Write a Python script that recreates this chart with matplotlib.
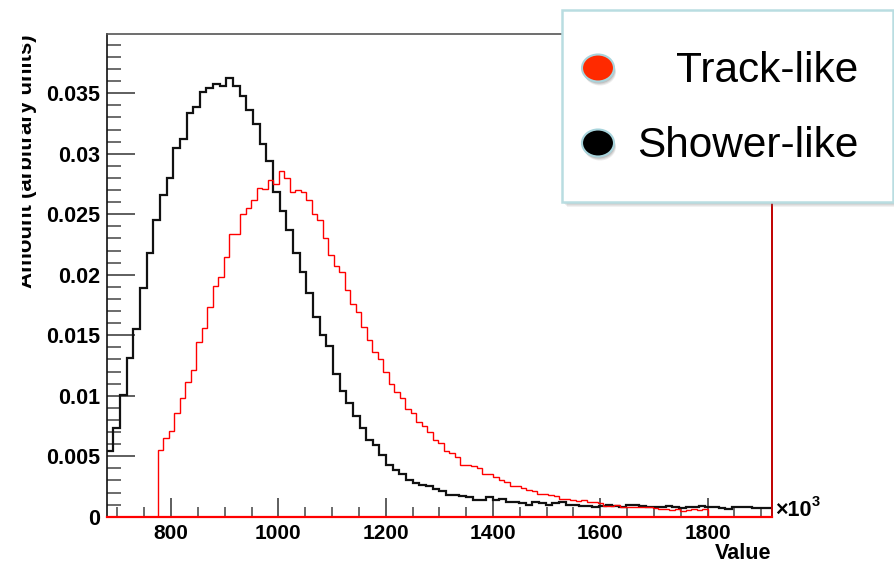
import numpy as np
import matplotlib.pyplot as plt
from matplotlib.patches import Rectangle, Ellipse
from matplotlib.ticker import MultipleLocator, FuncFormatter
from matplotlib.transforms import Bbox

plt.rcParams['font.family'] = ['Liberation Sans', 'DejaVu Sans']

# histogram ranges (x in units of 10^3)
shower_range = (680, 1920)
track_range = (775, 1800)

# shower-like (black), 100 bins
shower = [
    0.0054, 0.0073, 0.0101, 0.0131, 0.0155, 0.0189, 0.0218, 0.0245, 0.0266, 0.0280,
    0.0305, 0.0312, 0.0334, 0.0339, 0.0351, 0.0354, 0.0358, 0.0356, 0.0363, 0.0356,
    0.0348, 0.0336, 0.0325, 0.0308, 0.0294, 0.0268, 0.0253, 0.0237, 0.0218, 0.0202,
    0.0185, 0.0165, 0.0150, 0.0141, 0.0118, 0.0104, 0.0094, 0.0083, 0.0073, 0.0063,
    0.0059, 0.0051, 0.0043, 0.0039, 0.0035, 0.0030, 0.0028, 0.0026, 0.0025, 0.0023,
    0.0021, 0.0018, 0.0018, 0.0017, 0.0016, 0.0014, 0.0014, 0.0016, 0.0014, 0.0015,
    0.0012, 0.0012, 0.0011, 0.0010, 0.0012, 0.0011, 0.0010, 0.0011, 0.0012, 0.0010,
    0.0010, 0.0009, 0.0009, 0.0008, 0.0009, 0.0010, 0.0009, 0.0008, 0.00097, 0.00097,
    0.0009, 0.00083, 0.00077, 0.00083, 0.0009, 0.00077, 0.00074, 0.00083, 0.00077, 0.00088,
    0.00083, 0.00077, 0.0007, 0.00064, 0.00077, 0.00083, 0.00077, 0.0007, 0.0007, 0.00074,
]

# track-like (red), 100 bins
track = [
    0.0055, 0.0065, 0.0071, 0.00855, 0.0098, 0.0111, 0.0121, 0.0144, 0.0156, 0.0173,
    0.0191, 0.0198, 0.0215, 0.0234, 0.0234, 0.0250, 0.0255, 0.0262, 0.0272, 0.0271,
    0.0278, 0.0275, 0.0286, 0.0280, 0.0268, 0.0270, 0.0268, 0.0262, 0.0250, 0.0245,
    0.0230, 0.0216, 0.0207, 0.0202, 0.0187, 0.0176, 0.0169, 0.0157, 0.0146, 0.0136,
    0.0130, 0.0120, 0.0110, 0.0103, 0.0098, 0.0089, 0.0086, 0.0078, 0.0075, 0.0070,
    0.0063, 0.0061, 0.0054, 0.0053, 0.0049, 0.0043, 0.0043, 0.0042, 0.0040, 0.0035,
    0.0035, 0.0033, 0.0030, 0.0029, 0.0025, 0.0025, 0.0024, 0.0022, 0.0021, 0.0019,
    0.0019, 0.0018, 0.0017, 0.0015, 0.0015, 0.0014, 0.0013, 0.0014, 0.0012, 0.0012,
    0.0011, 0.0009, 0.0009, 0.0010, 0.0008, 0.0008, 0.00083, 0.00083, 0.00077, 0.00077,
    0.0007, 0.00064, 0.00061, 0.00055, 0.00061, 0.0005, 0.00055, 0.00061, 0.00055, 0.00061,
]

legend_labels = ['Track-like', 'Shower-like']
legend_colors = ['#ff2a00', '#000000']

W, H = 895, 567


def fx(x):
    return x / W


def fy(y):
    return 1 - y / H


fig = plt.figure(figsize=(W / 100, H / 100), dpi=100)
ax = fig.add_axes([fx(106.7), fy(516.7), (772 - 106.7) / W, (516.7 - 34) / H])

shower_edges = np.linspace(shower_range[0], shower_range[1], len(shower) + 1)
track_edges = np.linspace(track_range[0], track_range[1], len(track) + 1)

ax.axhline(0, color='#ff0000', lw=1.6, zorder=4, clip_on=False)
ax.stairs(track, track_edges, baseline=0, color='#ff0000', lw=1.0, zorder=3)
ax.stairs(shower, shower_edges, baseline=None, color='#111111', lw=1.6, zorder=2)

ax.set_xlim(*shower_range)
ax.set_ylim(0, 0.0399)

ax.xaxis.set_major_locator(MultipleLocator(200))
ax.xaxis.set_minor_locator(MultipleLocator(50))
ax.yaxis.set_major_locator(MultipleLocator(0.005))
ax.yaxis.set_minor_locator(MultipleLocator(0.001))
ax.yaxis.set_major_formatter(FuncFormatter(lambda v, p: '%g' % round(v, 4)))

ax.tick_params(axis='y', which='major', direction='in', length=20, width=1.1,
               color='#333333', labelsize=15.5, pad=5)
ax.tick_params(axis='y', which='minor', direction='in', length=10, width=1.1,
               color='#444444')
ax.tick_params(axis='x', which='major', direction='in', length=14, width=1.1,
               color='#333333', labelsize=15, pad=5)
ax.tick_params(axis='x', which='minor', direction='in', length=7, width=1.1,
               color='#444444')
for lab in ax.get_xticklabels() + ax.get_yticklabels():
    lab.set_fontweight('bold')

ax.spines['left'].set_color('#111111')
ax.spines['left'].set_linewidth(1.2)
ax.spines['top'].set_color('#555555')
ax.spines['top'].set_linewidth(1.2)
ax.spines['right'].set_color('#c00000')
ax.spines['right'].set_linewidth(1.4)
ax.spines['bottom'].set_visible(False)

# axis titles
fig.text(fx(771), fy(564), 'Value', ha='right', va='bottom',
         fontsize=15.5, fontweight='bold')
fig.text(fx(775), fy(521), '×10', ha='left', va='bottom',
         fontsize=15.5, fontweight='bold')
fig.text(fx(811.5), fy(509), '3', ha='left', va='bottom',
         fontsize=10.5, fontweight='bold')
ylab = fig.text(fx(37.5), fy(34), 'Amount (arbitrary units)', rotation=90,
                ha='right', va='top', fontsize=16, fontweight='bold')
ylab.set_clip_box(Bbox([[22, 0], [W, H]]))
ylab.set_clip_on(True)

# legend box with soft shadow
bx0, by0, bx1, by1 = 562, 10, 893, 202
for k, a in enumerate([0.10, 0.10, 0.12, 0.14]):
    off = 5 - k
    fig.add_artist(Rectangle((fx(bx0 + off), fy(by1 + off)), (bx1 - bx0) / W,
                             (by1 - by0) / H, transform=fig.transFigure,
                             facecolor='#777777', edgecolor='none', alpha=a,
                             zorder=5))
fig.add_artist(Rectangle((fx(bx0), fy(by1)), (bx1 - bx0) / W, (by1 - by0) / H,
                         transform=fig.transFigure, facecolor='white',
                         edgecolor='#b9dde1', lw=1.8, zorder=6))

rows_y = [68, 143]
base_y = [82, 157]
for label, col, cy, by in zip(legend_labels, legend_colors, rows_y, base_y):
    for k, a in enumerate([0.12, 0.15, 0.2]):
        off = 4 - k
        fig.add_artist(Ellipse((fx(598 + off * 0.5), fy(cy + off)), 32 / W, 27 / H,
                               transform=fig.transFigure, facecolor='#666666',
                               edgecolor='none', alpha=a, zorder=7))
    fig.add_artist(Ellipse((fx(598), fy(cy)), 32 / W, 27 / H,
                           transform=fig.transFigure, facecolor=col,
                           edgecolor='#a8d4dc', lw=1.5, zorder=8))
    fig.text(fx(858), fy(by), label, ha='right', va='baseline', fontsize=30.5,
             zorder=9)

fig.savefig('out.png', dpi=100)
